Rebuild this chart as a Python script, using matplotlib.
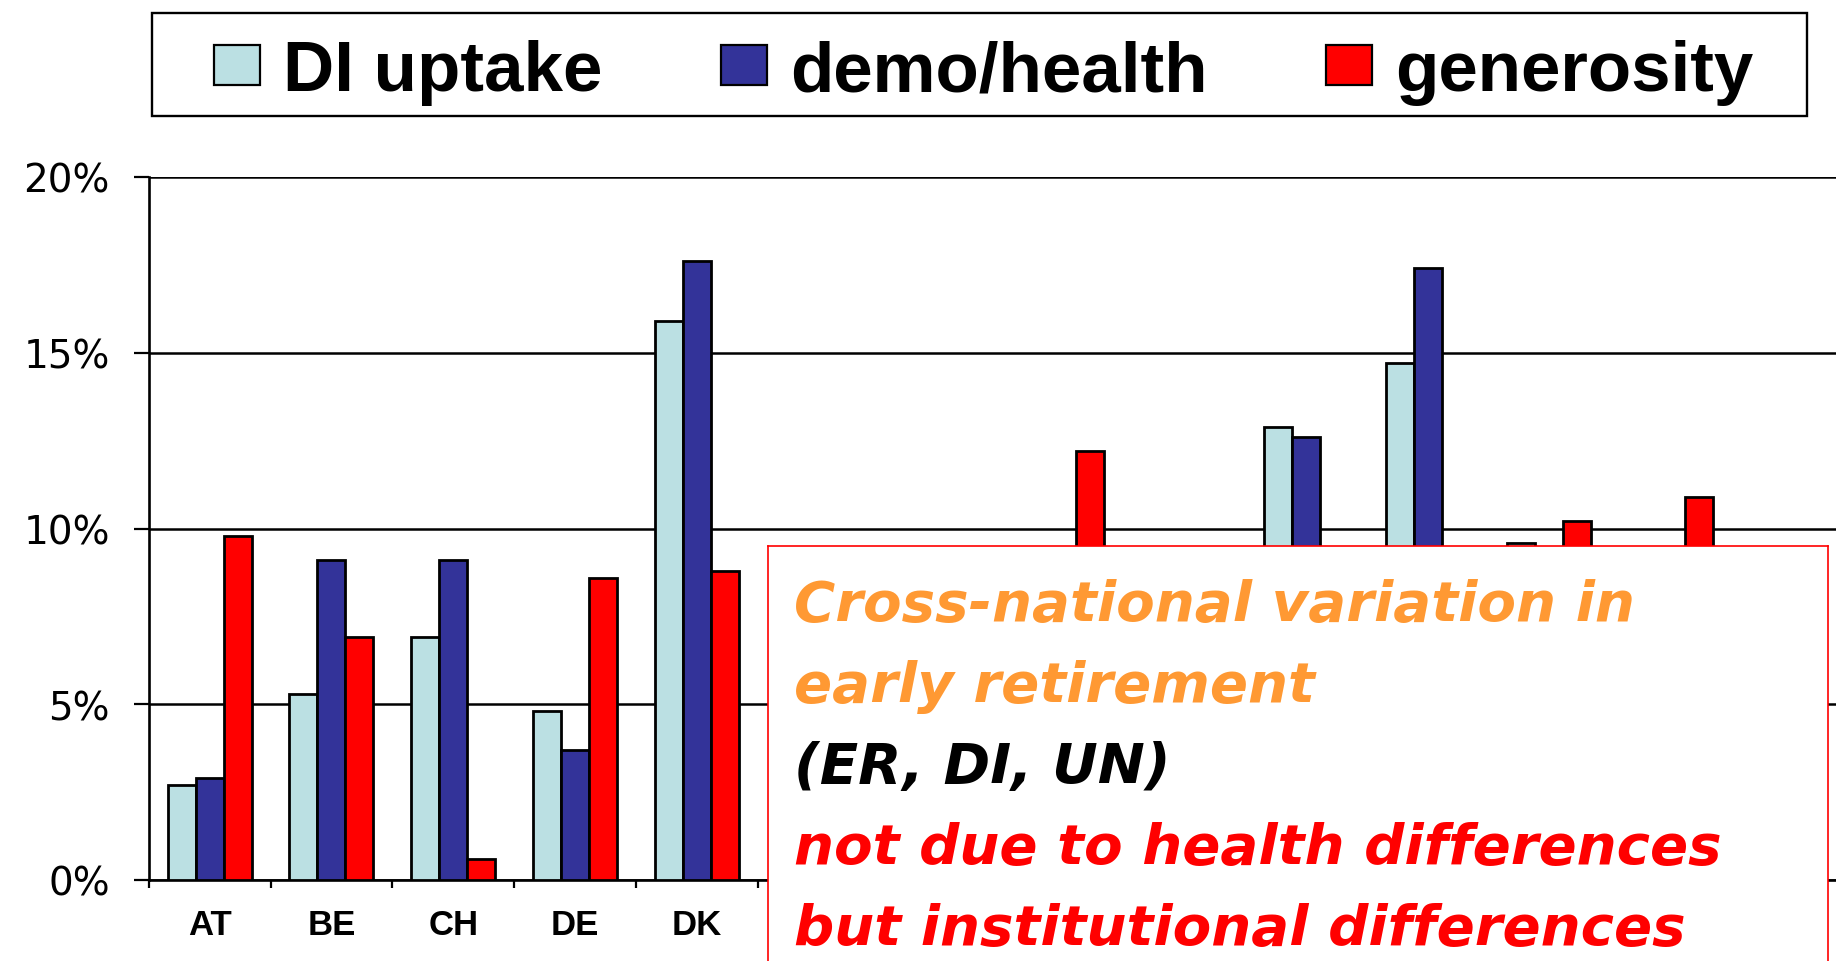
import numpy as np
import matplotlib
matplotlib.use("Agg")
import matplotlib.pyplot as plt
from matplotlib.patches import Patch, Rectangle

# categories; the ones after DK sit under the text box, their labels are not visible
countries = ["AT", "BE", "CH", "DE", "DK", "", "", "", "", "", "", "", ""]
nan = np.nan
di_uptake = [2.7, 5.3, 6.9, 4.8, 15.9, nan, nan, nan, nan, 12.9, 14.7, 9.6, nan]
demo_health = [2.9, 9.1, 9.1, 3.7, 17.6, nan, nan, nan, nan, 12.6, 17.4, nan, nan]
generosity = [9.8, 6.9, 0.6, 8.6, 8.8, nan, nan, 12.2, nan, nan, nan, 10.2, 10.9]

series_names = ["DI uptake", "demo/health", "generosity"]
y_ticks = [0, 5, 10, 15, 20]

LIGHT, DARK, RED, ORANGE = "#BBE0E3", "#333399", "#FF0000", "#FF9933"
W, H = 1836, 962

fig = plt.figure(figsize=(W / 100, H / 100), dpi=100)
left = 148.7 / W
ax = fig.add_axes([left, (H - 881) / H, 1.0 - left, (881 - 178) / H])

x = np.arange(len(countries))
bw = 0.23
for off, vals, col in zip((-bw, 0, bw), (di_uptake, demo_health, generosity), (LIGHT, DARK, RED)):
    ax.bar(x + off, vals, width=bw, color=col, edgecolor="black", linewidth=2.0, zorder=3)

ax.set_ylim(0, 20)
ax.set_xlim(-0.5, -0.5 + (W - 148.7) / 121.8)
ax.set_axisbelow(True)
ax.yaxis.grid(True, color="black", lw=1.8)
for s in ("top", "right"):
    ax.spines[s].set_visible(False)
ax.spines["left"].set_linewidth(1.9)
ax.spines["bottom"].set_linewidth(1.9)

ax.set_yticks(y_ticks)
ax.set_yticklabels([f"{v}%" for v in y_ticks])
ax.tick_params(axis="y", length=11, width=1.6, pad=17, labelsize=28)

ax.set_xticks(x)
ax.set_xticklabels(countries, fontfamily="Liberation Sans", fontweight="bold", fontsize=25)
ax.set_xticks(np.arange(-0.5, len(countries), 1), minor=True)
ax.tick_params(axis="x", which="major", length=0, pad=20)
ax.tick_params(axis="x", which="minor", length=6, width=1.6)

# legend across the top, with its own frame
x0, x1, y0, y1 = 152 / W, 1807 / W, 1 - 117 / H, 1 - 14 / H
fig.patches.append(Rectangle((x0, y0), x1 - x0, y1 - y0, transform=fig.transFigure,
                             facecolor="white", edgecolor="black", linewidth=1.7))
handles = [Patch(facecolor=c, edgecolor="black", linewidth=1.6) for c in (LIGHT, DARK, RED)]
leg = fig.legend(handles, series_names, loc="center", ncol=3, frameon=False,
                 bbox_to_anchor=((x0 + x1) / 2 + 4 / W, (y0 + y1) / 2 - 8 / H),
                 prop={"family": "Liberation Sans", "weight": "bold", "size": 51},
                 handlelength=0.65, handleheight=0.49, handletextpad=0.33,
                 columnspacing=1.67, borderpad=0, borderaxespad=0)

# callout box covering the right part of the chart
box = fig.add_axes([768 / W, -0.05, (1828 - 768) / W, 0.05 + 1 - 547 / H])
box.set_zorder(5)
box.set_facecolor("white")
box.set_xticks([]); box.set_yticks([])
for s in box.spines.values():
    s.set_edgecolor(RED)
    s.set_linewidth(1.2)

lines = [("Cross-national variation in", ORANGE),
         ("early retirement", ORANGE),
         ("(ER, DI, UN)", "black"),
         ("not due to health differences", RED),
         ("but institutional differences", RED)]
for i, (txt, col) in enumerate(lines):
    box.text(794 / W, 1 - (621 + 81 * i) / H, txt, transform=fig.transFigure,
             color=col, fontsize=40.5, fontweight="bold", style="italic",
             family="DejaVu Sans", va="baseline", ha="left")

fig.savefig("out.png", dpi=100)
